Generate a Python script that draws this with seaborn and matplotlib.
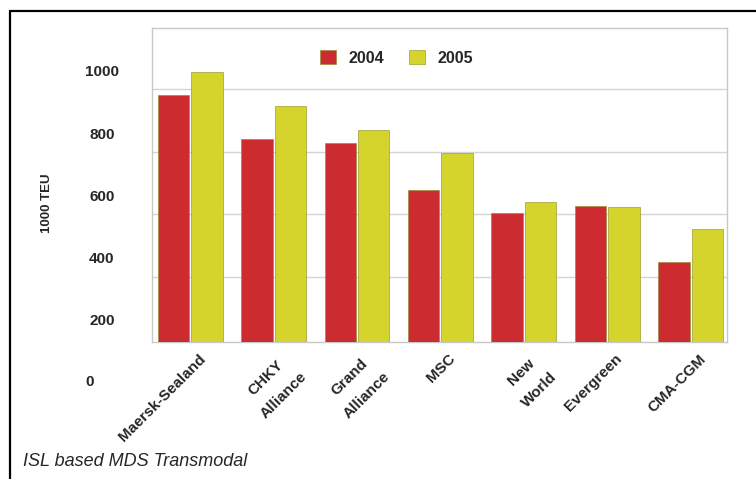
import matplotlib
matplotlib.use("Agg")
from matplotlib import pyplot as plt
from matplotlib.lines import Line2D
import matplotlib.transforms as mtransforms
import seaborn as sns
import pandas as pd

# данные с картинки (1000 TEU)
carriers = ['Maersk-Sealand', 'CHKY\nAlliance', 'Grand\nAlliance', 'MSC',
            'New\nWorld', 'Evergreen', 'CMA-CGM']
years = ['2004', '2005']
teu_2004 = [923, 782, 769, 618, 544, 566, 386]
teu_2005 = [997, 886, 810, 737, 579, 563, 492]
y_ticks = [200, 400, 600, 800, 1000]
grid_lines = [339, 540, 740, 940]  # линии на задней стенке (3D-сдвиг)

df = pd.DataFrame({
    'carrier': carriers * 2,
    'year': [years[0]] * len(carriers) + [years[1]] * len(carriers),
    'teu': teu_2004 + teu_2005,
})

sns.set_style('white')
plt.rcParams['font.family'] = ['Liberation Sans', 'DejaVu Sans']

fig = plt.figure(figsize=(7.56, 4.79), dpi=100)
ax = fig.add_axes([0.201, 0.286, 0.761, 0.656])

sns.barplot(data=df, x='carrier', y='teu', hue='year', ax=ax,
            palette=['#cc2c2f', '#d4d42c'], width=0.8, gap=0.06, saturation=1,
            edgecolor='#8a8a20', linewidth=0.4, zorder=3)

ax.set_ylim(129, 1138)
ax.set_xlim(-0.46, 6.44)
ax.set_yticks(y_ticks)
ax.set_yticklabels([str(v) for v in y_ticks], fontweight='bold', fontsize=11)
ax.set_yticks(grid_lines, minor=True)
ax.grid(False)
ax.yaxis.grid(True, which='minor', color='#d4d4d4', linewidth=1)
ax.tick_params(axis='y', which='major', length=0, pad=36)
ax.tick_params(axis='y', which='minor', length=0)
for lab in ax.get_yticklabels():
    lab.set_horizontalalignment('center')

# "0" ниже области графика
trans = mtransforms.blended_transform_factory(ax.transAxes, ax.transData)
ax.text(-0.108, 0, '0', transform=trans, ha='center', va='center',
        fontsize=11, fontweight='bold', clip_on=False)

ax.set_xlabel('')
ax.set_xticks(range(len(carriers)))
ax.set_xticklabels(carriers, rotation=45, ha='right', rotation_mode='anchor',
                   fontweight='bold', fontsize=11, multialignment='center',
                   linespacing=2.0)
ax.tick_params(axis='x', length=0, pad=7)
shift = mtransforms.ScaledTranslation(0.08, 0, fig.dpi_scale_trans)
for lab in ax.get_xticklabels():
    lab.set_transform(lab.get_transform() + shift)

ax.set_ylabel('1000 TEU', fontweight='bold', fontsize=9.5)
ax.yaxis.set_label_coords(-0.172, 0.44)

for s in ax.spines.values():
    s.set_color('#c8c8c8')
    s.set_linewidth(1)

leg = ax.legend(loc='center', bbox_to_anchor=(0.425, 0.904), ncol=2,
                frameon=False, handlelength=1.0, handleheight=1.0,
                columnspacing=1.55, handletextpad=0.8,
                prop={'weight': 'bold', 'size': 11.5})

fig.text(23 / 756, 1 - 462 / 479, 'ISL based MDS Transmodal', style='italic',
         fontsize=13, ha='left', va='center')

# рамка: только сверху и слева
fig.add_artist(Line2D([10 / 756, 1], [1 - 11 / 479, 1 - 11 / 479],
                      transform=fig.transFigure, color='black', linewidth=1.6))
fig.add_artist(Line2D([10 / 756, 10 / 756], [0, 1 - 11 / 479],
                      transform=fig.transFigure, color='black', linewidth=1.6))

fig.savefig('out.png', dpi=100)
